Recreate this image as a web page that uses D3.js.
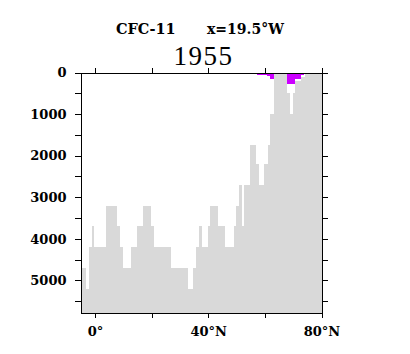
<!DOCTYPE html>
<html lang="en">
<head>
    <meta charset="UTF-8">
    <title>CFC-11 section 1955</title>
    <script src="https://d3js.org/d3.v7.min.js"></script>
    <style>
        body { margin: 0; background: #fff; }
        text { font-family: "DejaVu Serif", serif; fill: #000; }
    </style>
</head>
<body>
    <script>
        // bathymetry: latitude cell edges and bottom depth (m) of each cell
        const latEdges = [-5.1, -3.3, -2.1, -1.05, -0.35, 3.9, 7.7, 8.85, 9.8, 12.7,
                          15.0, 17.1, 19.7, 20.9, 26.8, 33.0, 34.8, 35.75, 36.9, 37.9,
                          40.0, 40.7, 43.6, 46.0, 49.0, 49.9, 51.0, 51.9, 52.8, 54.9,
                          57.0, 57.8, 59.8, 61.0, 61.9, 63.1, 67.9, 69.0, 69.95, 70.8,
                          72.6, 74.3, 80];
        const bottomDepth = [4700, 5200, 4200, 3700, 4200, 3200, 3700, 4200, 4700, 4200,
                             3700, 3200, 3700, 4200, 4700, 5200, 4700, 4200, 3700, 4200,
                             3700, 3200, 3700, 4200, 3700, 3200, 2700, 3700, 2700, 1750,
                             2200, 2700, 2200, 1750, 1000, 40, 500, 1000, 500, 200,
                             100, 40];

        // CFC-11 filled patches (lat range, depth reached)
        const cfcLatStart = [57.3, 60.9, 61.9, 67.9, 70.8, 72.6];
        const cfcLatEnd   = [60.9, 61.9, 63.1, 70.8, 72.6, 73.8];
        const cfcDepth    = [50, 85, 160, 270, 150, 70];

        const latTicks = [0, 20, 40, 60, 80];
        const latLabels = {0: "0°", 40: "40°N", 80: "80°N"};
        const depthTicks = d3.range(0, 5501, 500);
        const depthMax = 5770;

        const width = 410, height = 354;
        const plotLeft = 80.5, plotRight = 321.5, plotTop = 72.5, plotBottom = 312.5;

        const x = d3.scaleLinear().domain([-5.1, 80]).range([plotLeft, plotRight]);
        const y = d3.scaleLinear().domain([0, depthMax]).range([plotTop, plotBottom]);

        const svg = d3.select("body").append("svg")
            .attr("width", width)
            .attr("height", height);

        const cells = bottomDepth.map((d, i) => ({lat0: latEdges[i], lat1: latEdges[i + 1], depth: d}));

        svg.append("g").selectAll("rect").data(cells).enter().append("rect")
            .attr("x", d => x(d.lat0))
            .attr("width", d => x(d.lat1) - x(d.lat0))
            .attr("y", d => y(d.depth))
            .attr("height", d => y(depthMax) - y(d.depth))
            .attr("shape-rendering", "crispEdges")
            .style("fill", "#d9d9d9");

        const cfc = cfcDepth.map((d, i) => ({lat0: cfcLatStart[i], lat1: cfcLatEnd[i], depth: d}));
        svg.append("g").selectAll("rect").data(cfc).enter().append("rect")
            .attr("x", d => x(d.lat0))
            .attr("width", d => x(d.lat1) - x(d.lat0))
            .attr("y", y(0))
            .attr("height", d => y(d.depth) - y(0))
            .attr("shape-rendering", "crispEdges")
            .style("fill", "#cc00ff");

        // axes
        const styleAxis = g => {
            g.selectAll("path, line").attr("stroke", "#000").attr("shape-rendering", "crispEdges");
            g.selectAll("text").attr("font-family", "DejaVu Serif").attr("font-weight", "bold")
                .attr("font-size", 13).attr("fill", "#000");
        };

        svg.append("g").attr("transform", `translate(${plotLeft},0)`)
            .call(d3.axisLeft(y).tickValues(depthTicks).tickSize(6).tickSizeOuter(0).tickPadding(8)
                .tickFormat(d => d % 1000 === 0 ? d : ""))
            .call(styleAxis);

        svg.append("g").attr("transform", `translate(${plotRight},0)`)
            .call(d3.axisRight(y).tickValues(depthTicks).tickSize(6).tickSizeOuter(0).tickFormat(""))
            .call(styleAxis);

        svg.append("g").attr("transform", `translate(0,${plotTop})`)
            .call(d3.axisTop(x).tickValues(latTicks).tickSize(5).tickSizeOuter(0).tickFormat(""))
            .call(styleAxis);

        svg.append("g").attr("transform", `translate(0,${plotBottom})`)
            .call(d3.axisBottom(x).tickValues(latTicks).tickSize(5).tickSizeOuter(0).tickPadding(9)
                .tickFormat(d => latLabels[d] || ""))
            .call(styleAxis);

        // titles
        svg.append("text").attr("x", 116).attr("y", 33.5)
            .attr("font-weight", "bold").attr("font-size", 14.5).text("CFC-11");
        svg.append("text").attr("x", 207).attr("y", 33.5)
            .attr("font-weight", "bold").attr("font-size", 14).text("x=19.5°W");
        svg.append("text").attr("x", 203.5).attr("y", 65)
            .attr("text-anchor", "middle")
            .style("font-family", "'Liberation Serif', serif")
            .attr("font-size", 27).attr("letter-spacing", 1.5).text("1955");
    </script>
</body>
</html>
